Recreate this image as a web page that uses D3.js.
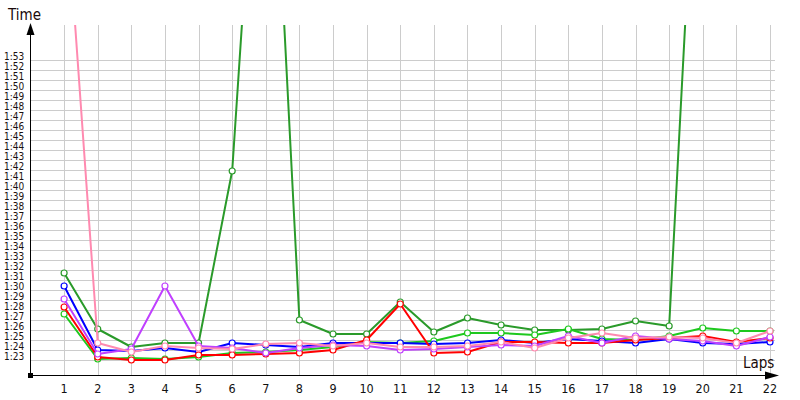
<!DOCTYPE html>
<html>
<head>
<meta charset="utf-8">
<script src="https://cdn.jsdelivr.net/npm/d3@7"></script>
<style>
  body { margin: 0; background: #fff; }
  svg { display: block; }
</style>
</head>
<body>
<svg width="800" height="400"></svg>
<script>
// lap numbers on the x axis
var laps = [1, 2, 3, 4, 5, 6, 7, 8, 9, 10, 11, 12, 13, 14, 15, 16, 17, 18, 19, 20, 21, 22];

// y tick labels (m:ss)
var timeTicks = ["1:23", "1:24", "1:25", "1:26", "1:27", "1:28", "1:29", "1:30", "1:31", "1:32",
    "1:33", "1:34", "1:35", "1:36", "1:37", "1:38", "1:39", "1:40", "1:41", "1:42", "1:43",
    "1:44", "1:45", "1:46", "1:47", "1:48", "1:49", "1:50", "1:51", "1:52", "1:53"];

// lap times in seconds, one array per driver
var darkGreenTimes = [91.7, 86.1, 84.3, 84.7, 84.7, 101.9, 152.4, 87.0, 85.6, 85.6, 88.8,
    85.8, 87.2, 86.5, 86.0, 86.0, 86.1, 86.9, 86.4, 149.8];
var greenTimes = [87.6, 83.1, 83.2, 83.1, 83.3, 83.7, 83.8, 84.0, 84.3, 84.8, 84.7,
    84.9, 85.7, 85.7, 85.5, 86.1, 85.1, 85.0, 85.4, 86.2, 85.9, 85.9];
var blueTimes = [90.4, 84.0, 83.9, 84.2, 83.8, 84.7, 84.5, 84.3, 84.7, 84.7, 84.7,
    84.6, 84.7, 85.0, 84.7, 85.1, 84.9, 84.7, 85.1, 84.7, 84.6, 84.8];
var redTimes = [88.3, 83.3, 83.0, 83.0, 83.5, 83.5, 83.6, 83.7, 84.0, 85.0, 88.6,
    83.7, 83.8, 84.8, 84.8, 84.7, 84.7, 85.0, 85.2, 85.4, 84.8, 85.2];
var violetTimes = [89.1, 83.6, 84.1, 90.4, 84.4, 84.2, 83.7, 84.2, 84.5, 84.4, 84.0,
    84.1, 84.3, 84.5, 84.4, 85.4, 84.7, 85.4, 85.1, 84.9, 84.4, 85.3];
var pinkTimes = [132.0, 84.7, 83.8, 84.4, 84.2, 84.1, 84.6, 84.7, 84.4, 84.7, 84.3,
    84.3, 84.4, 84.8, 84.2, 85.2, 85.7, 85.2, 85.3, 85.2, 84.7, 85.9];

var series = [
    { name: "darkgreen", color: "#2a9a2a", values: darkGreenTimes },
    { name: "green", color: "#1ec81e", values: greenTimes },
    { name: "blue", color: "#0000ff", values: blueTimes },
    { name: "red", color: "#ff0000", values: redTimes },
    { name: "violet", color: "#c040ff", values: violetTimes },
    { name: "pink", color: "#ff8ab0", values: pinkTimes }
];

function toSeconds(label) {
    var p = label.split(":");
    return +p[0] * 60 + +p[1];
}

var plot = { left: 30.5, right: 775, top: 25, bottom: 375 };

var x = d3.scaleLinear()
    .domain([0, 22])
    .range([plot.left, 770]);

var y = d3.scaleLinear()
    .domain([81.5, 116.5])
    .range([plot.bottom, plot.top]);

var svg = d3.select("svg");

svg.append("clipPath").attr("id", "plotclip")
    .append("rect")
    .attr("x", plot.left).attr("y", plot.top)
    .attr("width", plot.right - plot.left).attr("height", plot.bottom - plot.top);

// grid
var grid = svg.append("g").attr("stroke", "#cccccc").attr("stroke-width", 1);
grid.selectAll("line.h")
    .data(timeTicks)
    .enter().append("line")
    .attr("class", "h")
    .attr("x1", plot.left).attr("x2", plot.right)
    .attr("y1", function (d) { return Math.round(y(toSeconds(d))) + 0.5; })
    .attr("y2", function (d) { return Math.round(y(toSeconds(d))) + 0.5; });
grid.selectAll("line.v")
    .data(laps)
    .enter().append("line")
    .attr("class", "v")
    .attr("x1", function (d) { return Math.round(x(d)) + 0.5; })
    .attr("x2", function (d) { return Math.round(x(d)) + 0.5; })
    .attr("y1", plot.top).attr("y2", plot.bottom);

// y tick labels, baseline sits on the grid line
svg.append("g")
    .selectAll("text")
    .data(timeTicks)
    .enter().append("text")
    .attr("x", 4)
    .attr("y", function (d) { return y(toSeconds(d)); })
    .attr("font-family", "'DejaVu Sans Condensed', 'DejaVu Sans', sans-serif")
    .attr("font-size", 10)
    .attr("fill", "#1a1010")
    .text(function (d) { return d; });

// x tick labels
svg.append("g")
    .selectAll("text")
    .data(laps)
    .enter().append("text")
    .attr("x", function (d) { return x(d); })
    .attr("y", 393)
    .attr("text-anchor", "middle")
    .attr("font-family", "'DejaVu Sans Condensed', 'DejaVu Sans', sans-serif")
    .attr("font-size", 12.5)
    .attr("fill", "#111")
    .text(function (d) { return d; });

// axes with arrows
var axes = svg.append("g");
axes.append("line")
    .attr("x1", plot.left).attr("x2", plot.left)
    .attr("y1", plot.bottom).attr("y2", 30)
    .attr("stroke", "#000").attr("stroke-width", 1);
axes.append("line")
    .attr("x1", plot.left).attr("x2", 772)
    .attr("y1", plot.bottom + 0.5).attr("y2", plot.bottom + 0.5)
    .attr("stroke", "#000").attr("stroke-width", 1);
axes.append("path")
    .attr("d", "M" + plot.left + ",23L" + (plot.left - 4) + ",35L" + (plot.left + 4) + ",35Z")
    .attr("fill", "#000");
axes.append("path")
    .attr("d", "M779,375.5L765,371.5L765,379.5Z")
    .attr("fill", "#000");
axes.append("rect")
    .attr("x", plot.left - 2.5).attr("y", plot.bottom - 2)
    .attr("width", 5).attr("height", 5)
    .attr("fill", "#000");

svg.append("text")
    .attr("x", 8).attr("y", 20)
    .attr("font-family", "'DejaVu Sans Condensed', 'DejaVu Sans', sans-serif")
    .attr("font-size", 15)
    .attr("fill", "#1a0a0a")
    .text("Time");

svg.append("text")
    .attr("x", 743).attr("y", 368)
    .attr("font-family", "'DejaVu Sans Condensed', 'DejaVu Sans', sans-serif")
    .attr("font-size", 15)
    .attr("fill", "#1a0a0a")
    .text("Laps");

// lines + markers
var line = d3.line()
    .x(function (d, i) { return x(laps[i]); })
    .y(function (d) { return y(d); });

var layer = svg.append("g").attr("clip-path", "url(#plotclip)");

var g = layer.selectAll("g.series")
    .data(series)
    .enter().append("g")
    .attr("class", "series");

g.append("path")
    .attr("d", function (d) { return line(d.values); })
    .attr("fill", "none")
    .attr("stroke", function (d) { return d.color; })
    .attr("stroke-width", 2)
    .attr("stroke-linejoin", "round");

g.selectAll("circle")
    .data(function (d) { return d.values.map(function (v, i) { return { v: v, lap: laps[i], color: d.color }; }); })
    .enter().append("circle")
    .attr("cx", function (d) { return x(d.lap); })
    .attr("cy", function (d) { return y(d.v); })
    .attr("r", 3)
    .attr("fill", "#fff")
    .attr("stroke", function (d) { return d.color; })
    .attr("stroke-width", 1.2);
</script>
</body>
</html>
